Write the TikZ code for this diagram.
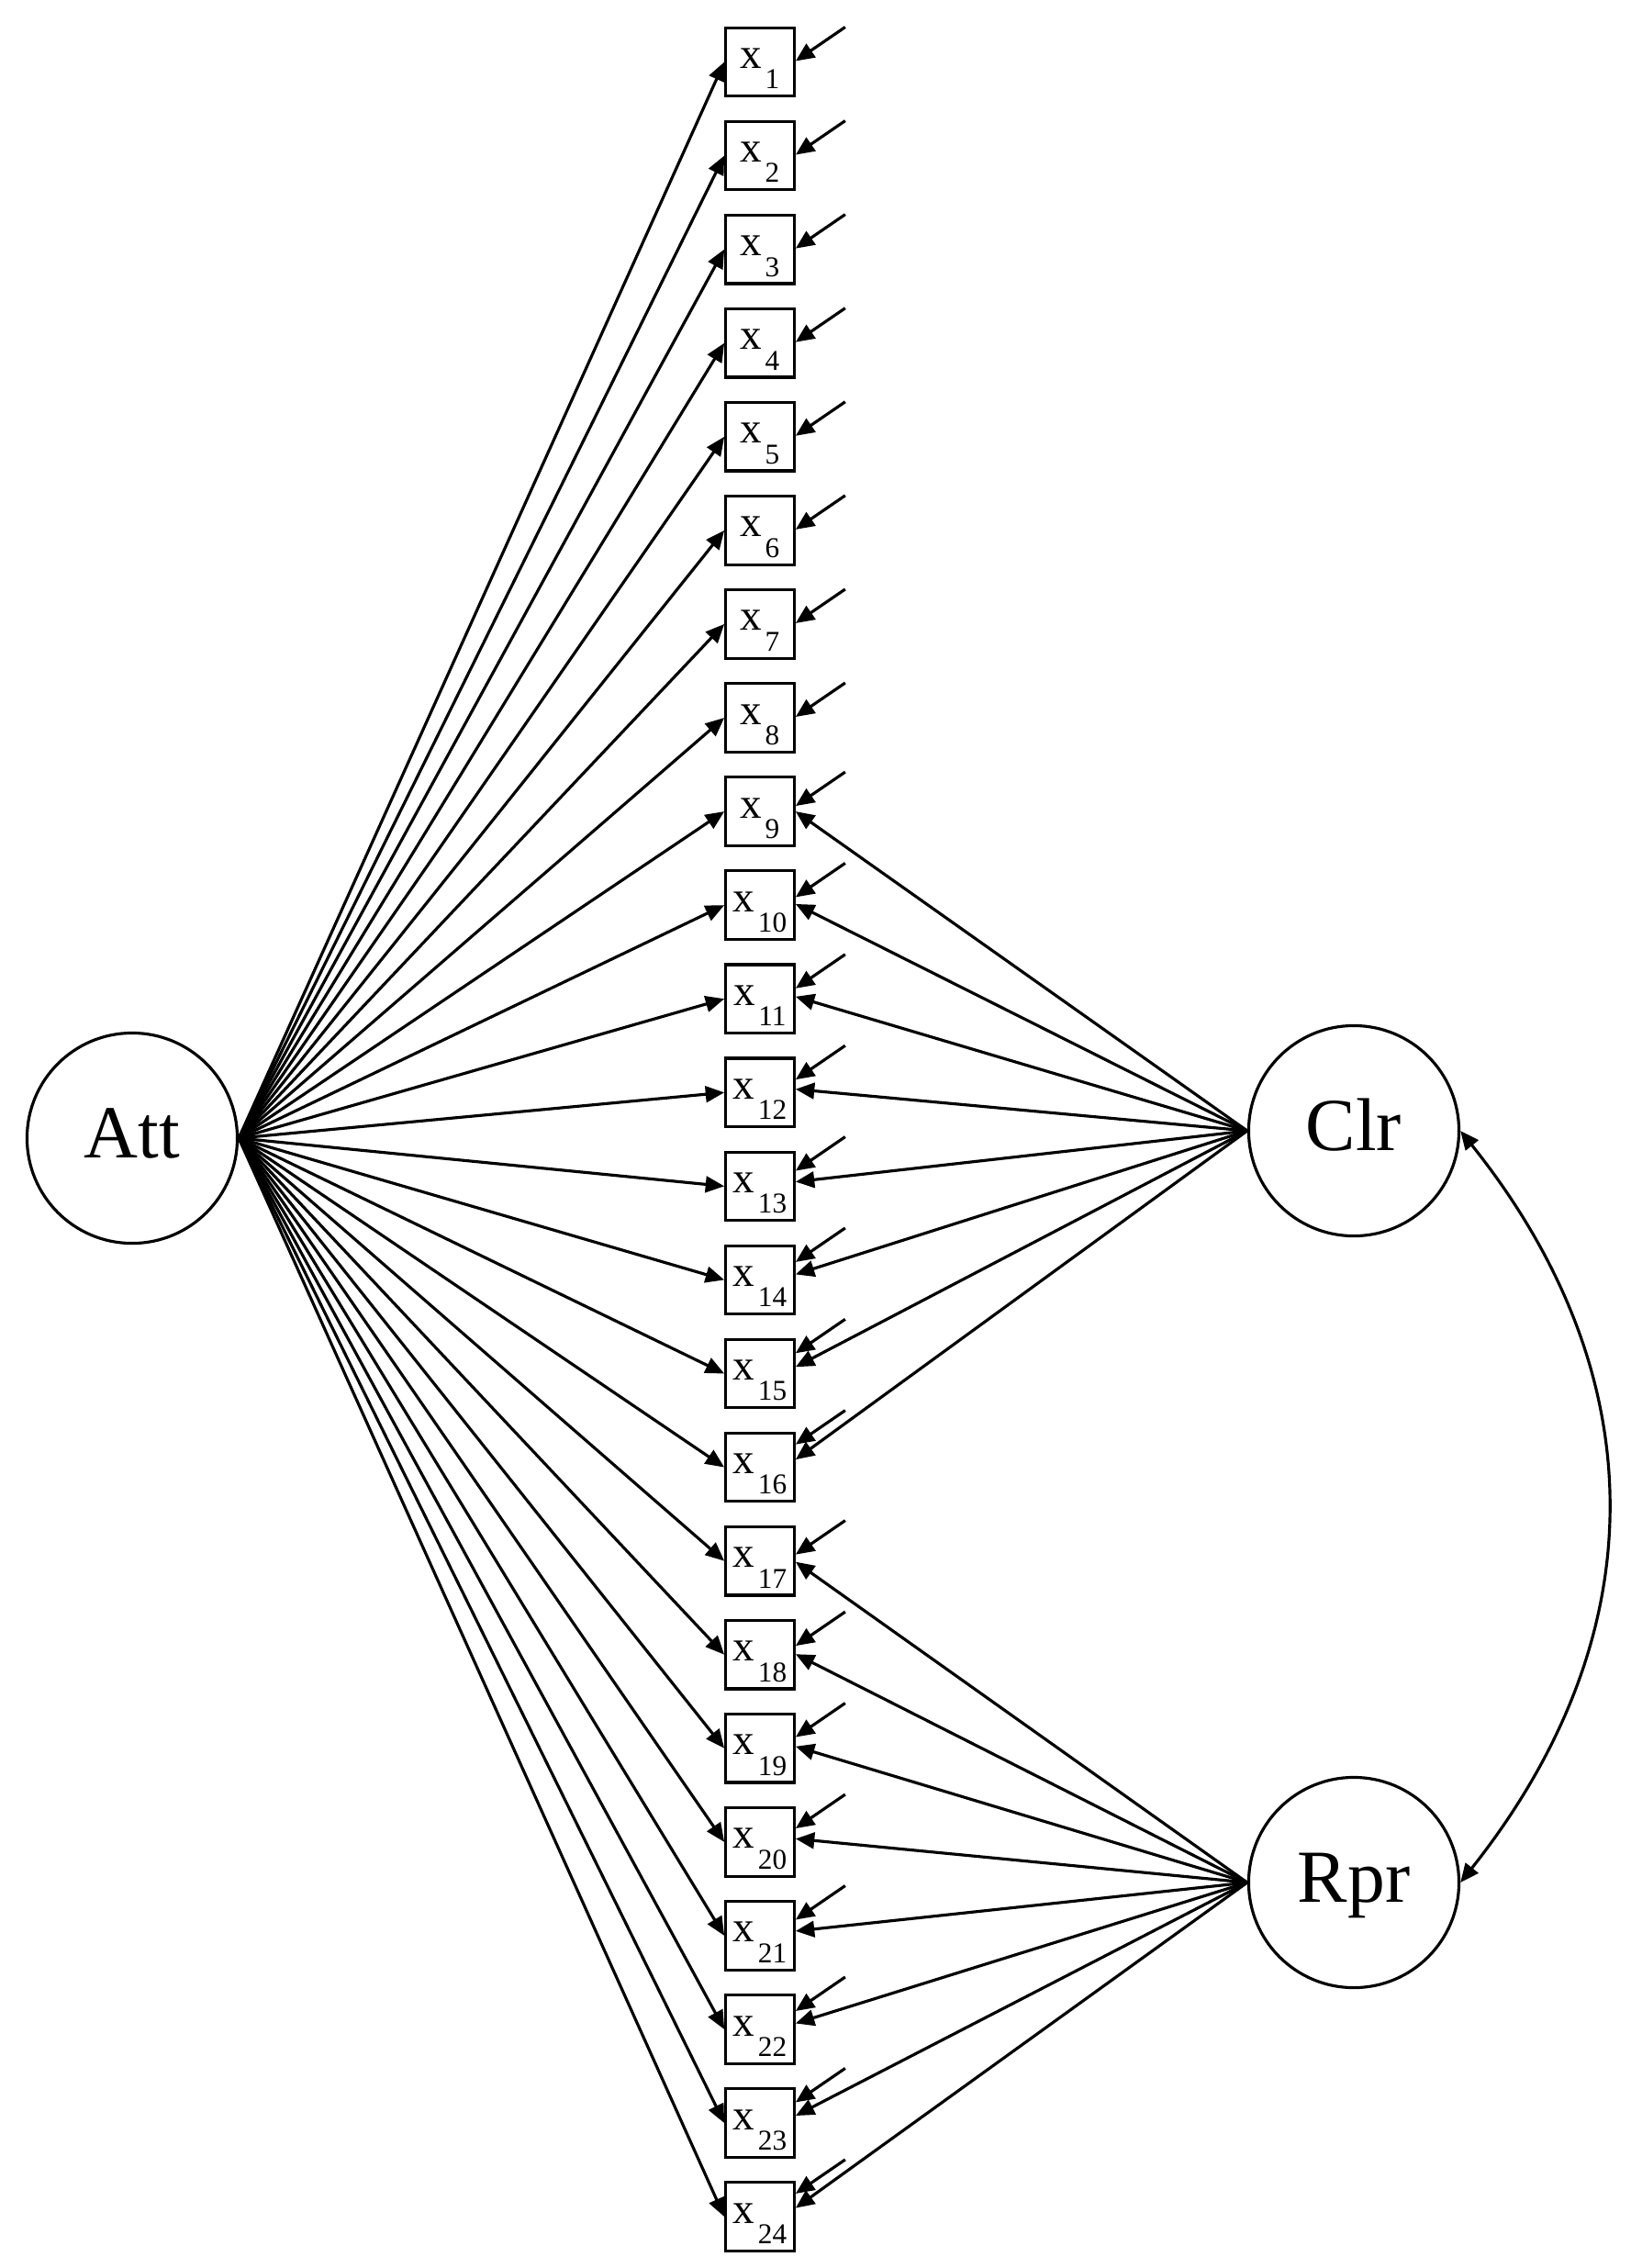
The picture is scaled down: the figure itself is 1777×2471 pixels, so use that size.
\documentclass[tikz,border=0pt]{standalone}
\usepackage{fontspec}
\setmainfont{Liberation Serif}
\usetikzlibrary{arrows.meta,calc}
\tikzset{
  obs/.style={draw, line width=0.9pt, rectangle, minimum size=0.745cm, inner sep=0pt, text height=6pt, text depth=2pt},
  lat/.style={draw, line width=0.9pt, circle, minimum size=2.29cm, inner sep=0pt, font=\fontsize{23.2}{25}\selectfont, text height=14pt, text depth=2pt},
  arr/.style={line width=0.9pt, -{Triangle[length=5.8pt,width=5pt]}},
  cov/.style={line width=0.9pt, {Triangle[length=5.8pt,width=5pt]}-{Triangle[length=5.8pt,width=5pt]}},
}
\newcommand{\obslabel}[1]{{\fontsize{13.4}{14}\selectfont x\kern1pt\raisebox{-6.35pt}{\fontsize{8.9}{9}\selectfont #1}}}
\begin{document}
\begin{tikzpicture}[x=0.01cm,y=-0.01cm]
\useasboundingbox (0,0) rectangle (1777,2471);
% observed variables
\foreach \i in {1,...,24} {
  \node[obs] (x\i) at (828, {67.5+(\i-1)*102.07}) {\obslabel{\i}};
}
% latent variables
\node[lat] (att) at (144,1240) {Att};
\node[lat] (clr) at (1475,1232) {Clr};
\node[lat] (rpr) at (1475,2051) {Rpr};
% Att loadings
\foreach \i in {1,...,24} {
  \draw[arr] (att.east) -- (x\i.west);
}
% error arrows x1-x8
\foreach \i in {1,...,8} {
  \coordinate (e\i) at ($(x\i.east)+(54,-38)$);
  \draw[arr] (e\i) -- ($(x\i.east)+(0,-1)$);
}
% Clr loadings and errors x9-x16
\foreach \k in {0,...,7} {
  \pgfmathtruncatemacro\i{9+\k}
  \pgfmathsetmacro\ee{6+\k*2.7}
  \pgfmathsetmacro\ff{\k*1.2}
  \draw[arr] (clr.west) -- ($(x\i.east)+(0,-\ff)$);
  \coordinate (e\i) at ($(x\i.east)+(54,{-(\ee+37)})$);
  \draw[arr] (e\i) -- ($(x\i.east)+(0,-\ee)$);
}
% Rpr loadings and errors x17-x24
\foreach \k in {0,...,7} {
  \pgfmathtruncatemacro\i{17+\k}
  \pgfmathsetmacro\ee{7+\k*2.6}
  \pgfmathsetmacro\ff{-1+\k*1.5}
  \draw[arr] (rpr.west) -- ($(x\i.east)+(0,-\ff)$);
  \coordinate (e\i) at ($(x\i.east)+(54,{-(\ee+37)})$);
  \draw[arr] (e\i) -- ($(x\i.east)+(0,-\ee)$);
}
% covariance
\draw[cov] (clr.east) .. controls (1804.5,1499) and (1804.5,1782) .. (rpr.east);
\end{tikzpicture}
\end{document}
